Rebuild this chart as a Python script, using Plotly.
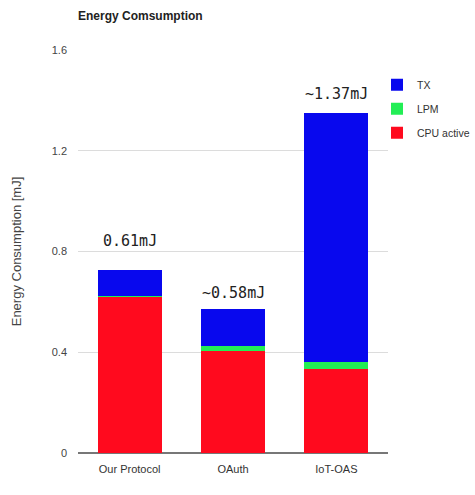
import plotly.graph_objects as go

categories = ["Our Protocol", "OAuth", "IoT-OAS"]
cpu_active = [0.62, 0.405, 0.335]
lpm = [0.005, 0.02, 0.028]
tx = [0.10, 0.145, 0.988]
totals_labels = ["0.61mJ", "~0.58mJ", "~1.37mJ"]
label_y = [0.80, 0.59, 1.38]
tick_vals = [0, 0.4, 0.8, 1.2, 1.6]

fig = go.Figure()
fig.add_trace(go.Bar(name="CPU active", x=categories, y=cpu_active, marker_color="#ff0a1e",
                     marker_line_width=0, width=0.62, legendgroup="c", legendrank=3))
fig.add_trace(go.Bar(name="LPM", x=categories, y=lpm, marker_color="#22ee55",
                     marker_line_width=0, width=0.62, legendgroup="l", legendrank=2))
fig.add_trace(go.Bar(name="TX", x=categories, y=tx, marker_color="#0808ee",
                     marker_line_width=0, width=0.62, legendgroup="t", legendrank=1))

for c, t, yy in zip(categories, totals_labels, label_y):
    fig.add_annotation(x=c, y=yy, text=t, showarrow=False, yanchor="bottom",
                       font=dict(family="DejaVu Sans Mono", size=15, color="#222"))

fig.update_layout(
    barmode="stack",
    width=475, height=495,
    margin=dict(l=78, r=0, t=50, b=42),
    paper_bgcolor="white", plot_bgcolor="white",
    title=dict(text="<b>Energy Comsumption</b>", x=78/475, xanchor="left", y=1-16/495, yanchor="middle",
               font=dict(family="Liberation Sans", size=12, color="#222")),
    legend=dict(x=1.0, y=0.95, xanchor="right", yanchor="top", traceorder="grouped",
                font=dict(family="Liberation Sans", size=10.5, color="#333"), itemwidth=30,
                tracegroupgap=5),
    xaxis=dict(domain=[0, 0.781], range=[-0.5, 2.5], showgrid=False, showline=False, ticks="",
               ticklabelstandoff=8,
               tickfont=dict(family="Liberation Sans", size=11, color="#333")),
    yaxis=dict(range=[0, 1.6], tickvals=tick_vals, ticktext=["0", "0.4", "0.8", "1.2", "1.6"],
               showgrid=True, gridcolor="#dcdcdc", zeroline=True, zerolinecolor="#777", zerolinewidth=1.5,
               tickfont=dict(family="Liberation Sans", size=11, color="#444"), ticks="",
               ticklabelstandoff=10,
               title=dict(text="Energy Consumption [mJ]", standoff=27,
                          font=dict(family="Liberation Sans", size=13, color="#444"))),
)

fig.write_html("out.html")
